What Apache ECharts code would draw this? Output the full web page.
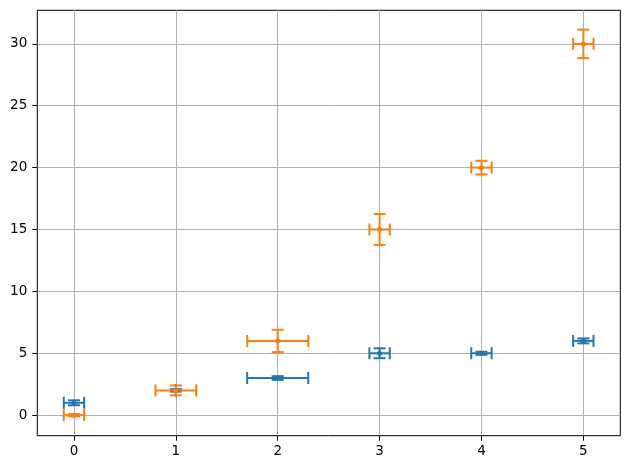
<!DOCTYPE html>
<html>
<head>
<meta charset="utf-8">
<script src="https://cdn.jsdelivr.net/npm/echarts@6/dist/echarts.min.js"></script>
<style>
  html, body { margin: 0; padding: 0; background: #fff; }
  #main { width: 630px; height: 470px; }
</style>
</head>
<body>
<div id="main"></div>
<script>
// x positions shared by both series
var xValues = [0, 1, 2, 3, 4, 5];

// blue series
var blueY = [1, 2, 3, 5, 5, 6];
var blueXErr = [0.1, 0, 0.3, 0.1, 0.1, 0.1];
var blueYErr = [0.2, 0.1, 0.15, 0.4, 0.12, 0.2];

// orange series
var orangeY = [0, 2, 6, 15, 20, 30];
var orangeXErr = [0.1, 0.2, 0.3, 0.1, 0.1, 0.1];
var orangeYErr = [0.1, 0.4, 0.9, 1.25, 0.55, 1.15];

// tick labels
var xTicks = [0, 1, 2, 3, 4, 5];
var yTicks = [0, 5, 10, 15, 20, 25, 30];

var chart = echarts.init(document.getElementById('main'));

function buildData(ys, xe, ye) {
  var out = [];
  for (var i = 0; i < xValues.length; i++) {
    out.push([xValues[i], ys[i], xe[i], ye[i]]);
  }
  return out;
}

// draws one point with its x/y error bars and caps
function errRenderer(color) {
  return function (params, api) {
    var x = api.value(0), y = api.value(1);
    var xe = api.value(2), ye = api.value(3);
    var c = api.coord([x, y]);
    var l = api.coord([x - xe, y]);
    var r = api.coord([x + xe, y]);
    var b = api.coord([x, y - ye]);
    var t = api.coord([x, y + ye]);
    var cap = 6;
    function ln(x1, y1, x2, y2) {
      return {
        type: 'line',
        shape: { x1: x1, y1: y1, x2: x2, y2: y2 },
        style: { stroke: color, lineWidth: 2 }
      };
    }
    return {
      type: 'group',
      children: [
        ln(l[0], l[1], r[0], r[1]),
        ln(b[0], b[1], t[0], t[1]),
        ln(l[0], l[1] - cap, l[0], l[1] + cap),
        ln(r[0], r[1] - cap, r[0], r[1] + cap),
        ln(b[0] - cap, b[1], b[0] + cap, b[1]),
        ln(t[0] - cap, t[1], t[0] + cap, t[1]),
        {
          type: 'circle',
          shape: { cx: c[0], cy: c[1], r: 2.5 },
          style: { fill: color }
        }
      ]
    };
  };
}

var option = {
  backgroundColor: '#fff',
  animation: false,
  textStyle: { fontFamily: 'DejaVu Sans' },
  grid: {
    left: 37.3,
    right: 9.7,
    top: 10.3,
    bottom: 34.3,
    show: true,
    borderColor: '#000',
    borderWidth: 1,
    backgroundColor: '#fff'
  },
  xAxis: {
    type: 'value',
    min: -0.36,
    max: 5.363,
    axisLine: { show: false, onZero: false },
    axisTick: {
      show: true,
      customValues: xTicks,
      length: 5,
      lineStyle: { color: '#000', width: 1 }
    },
    axisLabel: {
      customValues: xTicks,
      color: '#000',
      fontSize: 13.5,
      margin: 9,
      fontFamily: 'DejaVu Sans'
    },
    splitLine: { show: true, lineStyle: { color: '#b0b0b0', width: 1 } }
  },
  yAxis: {
    type: 'value',
    min: -1.66,
    max: 32.71,
    axisLine: { show: false, onZero: false },
    axisTick: {
      show: true,
      customValues: yTicks,
      length: 5,
      lineStyle: { color: '#000', width: 1 }
    },
    axisLabel: {
      customValues: yTicks,
      color: '#000',
      fontSize: 13.5,
      margin: 10,
      fontFamily: 'DejaVu Sans'
    },
    splitLine: { show: true, lineStyle: { color: '#b0b0b0', width: 1 } }
  },
  series: [
    {
      type: 'custom',
      name: 'blue',
      renderItem: errRenderer('#1f77b4'),
      encode: { x: 0, y: 1 },
      data: buildData(blueY, blueXErr, blueYErr),
      z: 2
    },
    {
      type: 'custom',
      name: 'orange',
      renderItem: errRenderer('#ff7f0e'),
      encode: { x: 0, y: 1 },
      data: buildData(orangeY, orangeXErr, orangeYErr),
      z: 3
    }
  ]
};

chart.setOption(option);
</script>
</body>
</html>
